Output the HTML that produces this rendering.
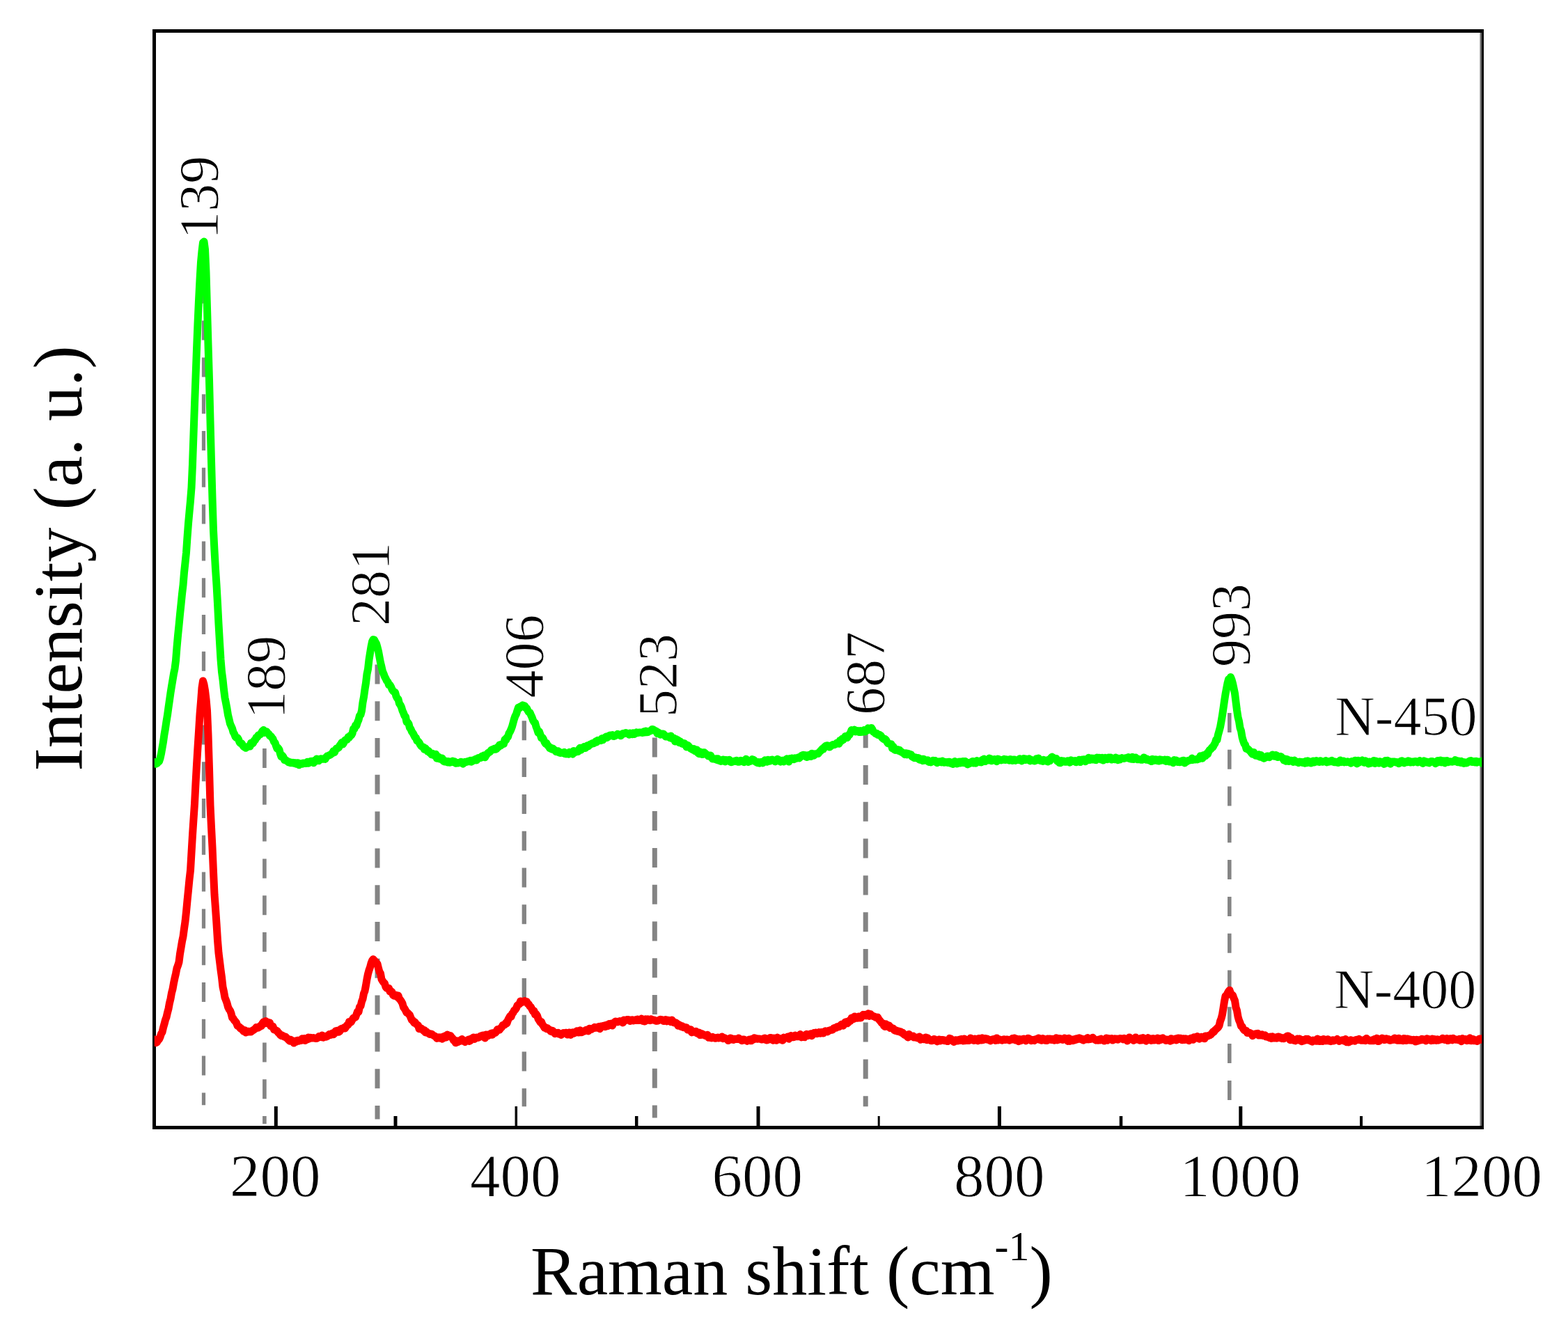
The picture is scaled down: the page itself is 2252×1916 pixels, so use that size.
<!DOCTYPE html>
<html lang="en"><head><meta charset="utf-8"><title>Raman spectra</title>
<style>html,body{margin:0;padding:0;background:#fff}body{width:2252px;height:1916px;overflow:hidden}svg{display:block}</style>
</head><body>
<svg width="2252" height="1916" viewBox="0 0 2252 1916">
<rect width="2252" height="1916" fill="#fff"/>
<line x1="292.5" y1="355.0" x2="292.5" y2="1587.3" stroke="#848484" stroke-width="5.2" stroke-dasharray="28 24.8"/>
<line x1="379.9" y1="1075" x2="379.9" y2="1614.3" stroke="#848484" stroke-width="5.6" stroke-dasharray="28 24.8"/>
<line x1="542.0" y1="954.4" x2="542.0" y2="1607.5" stroke="#848484" stroke-width="7" stroke-dasharray="28 24.8"/>
<line x1="752.8" y1="1035.3" x2="752.8" y2="1589.2" stroke="#848484" stroke-width="6.3" stroke-dasharray="28 24.8"/>
<line x1="940.3" y1="1059.5" x2="940.3" y2="1605.6" stroke="#848484" stroke-width="7" stroke-dasharray="28 24.8"/>
<line x1="1243.2" y1="1046.2" x2="1243.2" y2="1589.2" stroke="#848484" stroke-width="7" stroke-dasharray="28 24.8"/>
<line x1="1765.8" y1="1023.9" x2="1765.8" y2="1580.5" stroke="#848484" stroke-width="5.5" stroke-dasharray="28 24.8"/>
<g fill="#000">
<rect x="219" y="42" width="1912" height="5"/>
<rect x="219" y="1617" width="1912" height="5"/>
<rect x="219" y="42" width="5" height="1580"/>
<rect x="2128" y="42" width="3" height="1580"/>
<rect x="2125.5" y="47" width="2.5" height="1570" fill="#6e6e6e"/>
<rect x="393.8" y="1589" width="5" height="28"/>
<rect x="739.55" y="1589" width="3.5" height="28"/>
<rect x="1086.5" y="1589" width="5" height="28"/>
<rect x="1432.9" y="1589" width="5" height="28"/>
<rect x="1779.3" y="1589" width="5" height="28"/>
<rect x="565.5" y="1603" width="5" height="14"/>
<rect x="911.95" y="1603" width="4.5" height="14"/>
<rect x="1260.7" y="1603" width="3" height="14"/>
<rect x="1607.75" y="1603" width="4.5" height="14"/>
<rect x="1953.0" y="1603" width="4" height="14"/>
</g>
<clipPath id="cp"><rect x="221.8" y="0" width="1906.4" height="1916"/></clipPath>
<g clip-path="url(#cp)" fill="none" stroke-linejoin="round" stroke-linecap="butt">
<path d="M218.0,1096.4 L219.5,1097.0 L221.0,1096.4 L222.5,1094.4 L224.0,1097.1 L225.5,1096.5 L227.0,1094.7 L228.5,1093.7 L230.0,1089.3 L231.5,1082.6 L233.0,1074.0 L234.5,1065.5 L236.0,1054.7 L237.5,1046.3 L239.0,1036.0 L240.5,1026.9 L242.0,1016.0 L243.5,1005.6 L245.0,994.9 L246.5,985.6 L248.0,976.7 L249.5,967.7 L251.0,960.3 L252.5,948.7 L254.0,929.8 L255.5,912.9 L257.0,898.2 L258.5,882.5 L260.0,868.1 L261.5,853.0 L263.0,840.5 L264.5,822.3 L266.0,808.1 L267.5,793.7 L269.0,771.6 L270.5,751.9 L272.0,735.2 L273.5,719.3 L275.0,700.4 L276.5,666.9 L278.0,624.0 L279.5,581.1 L281.0,541.7 L282.5,501.6 L284.0,464.4 L285.5,431.5 L287.0,402.2 L288.5,376.5 L290.0,360.7 L291.5,348.4 L293.0,347.1 L294.5,358.2 L296.0,391.0 L297.5,442.6 L299.0,494.9 L300.5,545.5 L302.0,604.6 L303.5,662.0 L305.0,715.6 L306.5,761.5 L308.0,790.9 L309.5,817.3 L311.0,840.0 L312.5,866.7 L314.0,896.2 L315.5,922.3 L317.0,947.1 L318.5,965.1 L320.0,976.2 L321.5,990.5 L323.0,1002.2 L324.5,1009.8 L326.0,1017.6 L327.5,1027.0 L329.0,1033.0 L330.5,1039.4 L332.0,1043.0 L333.5,1046.1 L335.0,1051.5 L336.5,1054.0 L338.0,1058.0 L339.5,1059.5 L341.0,1059.4 L342.5,1061.8 L344.0,1066.0 L345.5,1067.5 L347.0,1067.7 L348.5,1070.2 L350.0,1072.3 L351.5,1073.4 L353.0,1074.3 L354.5,1073.4 L356.0,1072.5 L357.5,1071.5 L359.0,1072.1 L360.5,1067.1 L362.0,1068.3 L363.5,1067.2 L365.0,1063.5 L366.5,1063.1 L368.0,1059.3 L369.5,1058.8 L371.0,1056.0 L372.5,1055.5 L374.0,1054.7 L375.5,1052.4 L377.0,1049.9 L378.5,1048.6 L380.0,1052.4 L381.5,1050.7 L383.0,1050.8 L384.5,1053.0 L386.0,1054.0 L387.5,1056.8 L389.0,1057.4 L390.5,1059.4 L392.0,1061.2 L393.5,1065.5 L395.0,1066.7 L396.5,1071.4 L398.0,1075.3 L399.5,1074.5 L401.0,1076.6 L402.5,1082.6 L404.0,1086.9 L405.5,1085.3 L407.0,1087.3 L408.5,1091.5 L410.0,1091.3 L411.5,1092.6 L413.0,1093.4 L414.5,1095.0 L416.0,1094.5 L417.5,1095.8 L419.0,1095.7 L420.5,1095.2 L422.0,1096.2 L423.5,1095.6 L425.0,1097.0 L426.5,1095.7 L428.0,1095.8 L429.5,1098.8 L431.0,1096.9 L432.5,1096.8 L434.0,1097.3 L435.5,1096.0 L437.0,1096.0 L438.5,1096.6 L440.0,1096.2 L441.5,1094.2 L443.0,1096.3 L444.5,1094.3 L446.0,1093.4 L447.5,1093.3 L449.0,1093.6 L450.5,1095.7 L452.0,1092.0 L453.5,1093.2 L455.0,1090.0 L456.5,1092.1 L458.0,1092.7 L459.5,1090.8 L461.0,1089.7 L462.5,1090.2 L464.0,1090.2 L465.5,1089.5 L467.0,1090.4 L468.5,1087.5 L470.0,1085.8 L471.5,1085.5 L473.0,1084.7 L474.5,1084.0 L476.0,1082.8 L477.5,1081.9 L479.0,1078.6 L480.5,1080.4 L482.0,1077.2 L483.5,1074.7 L485.0,1074.8 L486.5,1073.6 L488.0,1070.7 L489.5,1068.8 L491.0,1066.3 L492.5,1068.9 L494.0,1066.4 L495.5,1063.0 L497.0,1062.4 L498.5,1062.3 L500.0,1058.9 L501.5,1059.3 L503.0,1056.5 L504.5,1056.2 L506.0,1053.4 L507.5,1047.0 L509.0,1046.9 L510.5,1042.0 L512.0,1042.1 L513.5,1037.4 L515.0,1034.0 L516.5,1027.9 L518.0,1026.5 L519.5,1020.9 L521.0,1008.9 L522.5,1000.9 L524.0,990.2 L525.5,981.0 L527.0,968.2 L528.5,961.1 L530.0,947.7 L531.5,938.1 L533.0,928.9 L534.5,921.5 L536.0,918.6 L537.5,918.9 L539.0,921.9 L540.5,924.3 L542.0,929.5 L543.5,935.5 L545.0,943.8 L546.5,951.7 L548.0,957.6 L549.5,964.4 L551.0,967.7 L552.5,971.9 L554.0,974.7 L555.5,977.8 L557.0,979.4 L558.5,983.7 L560.0,983.8 L561.5,986.4 L563.0,990.0 L564.5,992.4 L566.0,993.8 L567.5,994.4 L569.0,1000.0 L570.5,1002.8 L572.0,1004.2 L573.5,1010.5 L575.0,1012.5 L576.5,1015.6 L578.0,1020.7 L579.5,1024.0 L581.0,1028.1 L582.5,1029.4 L584.0,1037.0 L585.5,1037.5 L587.0,1039.6 L588.5,1045.3 L590.0,1047.2 L591.5,1050.9 L593.0,1052.8 L594.5,1055.8 L596.0,1058.7 L597.5,1059.9 L599.0,1064.0 L600.5,1064.8 L602.0,1066.4 L603.5,1069.5 L605.0,1071.7 L606.5,1072.4 L608.0,1073.1 L609.5,1076.3 L611.0,1074.7 L612.5,1076.8 L614.0,1079.2 L615.5,1078.5 L617.0,1081.1 L618.5,1081.9 L620.0,1083.9 L621.5,1082.5 L623.0,1083.6 L624.5,1085.5 L626.0,1083.3 L627.5,1089.3 L629.0,1086.7 L630.5,1087.5 L632.0,1090.3 L633.5,1090.2 L635.0,1089.0 L636.5,1092.7 L638.0,1093.8 L639.5,1092.9 L641.0,1093.6 L642.5,1094.9 L644.0,1093.4 L645.5,1095.2 L647.0,1095.0 L648.5,1094.0 L650.0,1093.2 L651.5,1094.7 L653.0,1094.0 L654.5,1096.3 L656.0,1095.3 L657.5,1096.0 L659.0,1095.3 L660.5,1095.4 L662.0,1094.2 L663.5,1095.9 L665.0,1097.2 L666.5,1094.7 L668.0,1094.3 L669.5,1094.6 L671.0,1093.9 L672.5,1093.2 L674.0,1093.7 L675.5,1092.6 L677.0,1094.2 L678.5,1091.9 L680.0,1091.8 L681.5,1092.1 L683.0,1090.2 L684.5,1091.9 L686.0,1089.0 L687.5,1088.4 L689.0,1088.5 L690.5,1088.4 L692.0,1086.3 L693.5,1087.4 L695.0,1084.9 L696.5,1087.8 L698.0,1085.0 L699.5,1083.1 L701.0,1081.4 L702.5,1080.6 L704.0,1079.5 L705.5,1077.4 L707.0,1076.6 L708.5,1076.6 L710.0,1075.4 L711.5,1076.3 L713.0,1075.7 L714.5,1073.4 L716.0,1073.0 L717.5,1069.8 L719.0,1071.1 L720.5,1069.1 L722.0,1068.5 L723.5,1068.4 L725.0,1062.3 L726.5,1063.2 L728.0,1059.2 L729.5,1058.5 L731.0,1053.2 L732.5,1050.9 L734.0,1047.7 L735.5,1043.6 L737.0,1038.1 L738.5,1032.6 L740.0,1028.3 L741.5,1025.6 L743.0,1020.7 L744.5,1016.1 L746.0,1017.1 L747.5,1014.8 L749.0,1014.3 L750.5,1012.8 L752.0,1014.8 L753.5,1013.6 L755.0,1016.9 L756.5,1017.2 L758.0,1020.3 L759.5,1022.8 L761.0,1023.2 L762.5,1026.9 L764.0,1030.1 L765.5,1034.4 L767.0,1037.1 L768.5,1038.2 L770.0,1043.8 L771.5,1047.5 L773.0,1052.3 L774.5,1050.7 L776.0,1055.0 L777.5,1060.0 L779.0,1059.2 L780.5,1061.6 L782.0,1065.6 L783.5,1068.0 L785.0,1067.6 L786.5,1070.7 L788.0,1071.6 L789.5,1074.6 L791.0,1074.0 L792.5,1076.2 L794.0,1074.9 L795.5,1076.6 L797.0,1077.5 L798.5,1079.7 L800.0,1079.7 L801.5,1078.7 L803.0,1080.9 L804.5,1081.5 L806.0,1081.0 L807.5,1081.3 L809.0,1081.8 L810.5,1080.3 L812.0,1082.8 L813.5,1082.9 L815.0,1081.5 L816.5,1083.3 L818.0,1080.5 L819.5,1081.1 L821.0,1080.8 L822.5,1083.2 L824.0,1078.4 L825.5,1080.5 L827.0,1080.3 L828.5,1079.1 L830.0,1079.5 L831.5,1076.3 L833.0,1074.3 L834.5,1077.2 L836.0,1074.1 L837.5,1074.4 L839.0,1072.6 L840.5,1074.5 L842.0,1073.4 L843.5,1070.7 L845.0,1071.8 L846.5,1070.1 L848.0,1069.0 L849.5,1068.5 L851.0,1067.4 L852.5,1067.7 L854.0,1066.6 L855.5,1065.0 L857.0,1065.9 L858.5,1063.2 L860.0,1063.6 L861.5,1063.1 L863.0,1063.7 L864.5,1060.6 L866.0,1062.7 L867.5,1060.3 L869.0,1059.3 L870.5,1058.2 L872.0,1059.3 L873.5,1058.2 L875.0,1056.4 L876.5,1055.9 L878.0,1056.2 L879.5,1055.6 L881.0,1057.4 L882.5,1057.4 L884.0,1056.5 L885.5,1055.6 L887.0,1054.3 L888.5,1054.7 L890.0,1055.5 L891.5,1056.8 L893.0,1055.1 L894.5,1053.5 L896.0,1053.8 L897.5,1053.0 L899.0,1052.5 L900.5,1053.1 L902.0,1053.4 L903.5,1055.2 L905.0,1053.0 L906.5,1054.4 L908.0,1054.8 L909.5,1052.7 L911.0,1054.5 L912.5,1053.3 L914.0,1051.9 L915.5,1052.7 L917.0,1052.3 L918.5,1052.0 L920.0,1051.9 L921.5,1052.3 L923.0,1052.5 L924.5,1050.9 L926.0,1051.8 L927.5,1049.9 L929.0,1051.7 L930.5,1051.6 L932.0,1050.4 L933.5,1049.8 L935.0,1049.5 L936.5,1047.5 L938.0,1047.7 L939.5,1048.6 L941.0,1049.8 L942.5,1050.1 L944.0,1053.5 L945.5,1051.9 L947.0,1054.1 L948.5,1055.1 L950.0,1054.1 L951.5,1053.9 L953.0,1054.1 L954.5,1056.2 L956.0,1057.9 L957.5,1057.5 L959.0,1058.0 L960.5,1057.9 L962.0,1059.7 L963.5,1057.1 L965.0,1060.6 L966.5,1061.0 L968.0,1060.1 L969.5,1065.0 L971.0,1061.5 L972.5,1062.5 L974.0,1063.1 L975.5,1066.6 L977.0,1065.0 L978.5,1067.6 L980.0,1068.3 L981.5,1068.7 L983.0,1067.6 L984.5,1069.3 L986.0,1072.9 L987.5,1070.2 L989.0,1071.6 L990.5,1073.3 L992.0,1075.3 L993.5,1075.5 L995.0,1076.9 L996.5,1075.5 L998.0,1078.7 L999.5,1078.9 L1001.0,1077.0 L1002.5,1081.4 L1004.0,1082.8 L1005.5,1079.8 L1007.0,1081.4 L1008.5,1083.6 L1010.0,1080.8 L1011.5,1080.7 L1013.0,1082.1 L1014.5,1083.6 L1016.0,1084.1 L1017.5,1086.1 L1019.0,1086.2 L1020.5,1085.0 L1022.0,1087.9 L1023.5,1090.1 L1025.0,1089.9 L1026.5,1090.4 L1028.0,1089.8 L1029.5,1091.6 L1031.0,1089.8 L1032.5,1092.3 L1034.0,1091.7 L1035.5,1093.4 L1037.0,1092.8 L1038.5,1091.1 L1040.0,1092.7 L1041.5,1094.1 L1043.0,1091.4 L1044.5,1092.2 L1046.0,1092.0 L1047.5,1091.2 L1049.0,1094.2 L1050.5,1094.7 L1052.0,1094.1 L1053.5,1093.5 L1055.0,1093.1 L1056.5,1093.5 L1058.0,1092.3 L1059.5,1094.2 L1061.0,1094.3 L1062.5,1094.1 L1064.0,1092.3 L1065.5,1092.9 L1067.0,1092.5 L1068.5,1094.7 L1070.0,1092.7 L1071.5,1090.2 L1073.0,1092.8 L1074.5,1094.6 L1076.0,1093.1 L1077.5,1093.5 L1079.0,1092.7 L1080.5,1090.6 L1082.0,1091.1 L1083.5,1092.2 L1085.0,1094.0 L1086.5,1094.8 L1088.0,1095.6 L1089.5,1094.6 L1091.0,1096.2 L1092.5,1094.7 L1094.0,1094.2 L1095.5,1095.9 L1097.0,1093.6 L1098.5,1092.0 L1100.0,1093.1 L1101.5,1094.2 L1103.0,1091.3 L1104.5,1093.2 L1106.0,1093.0 L1107.5,1091.4 L1109.0,1091.1 L1110.5,1092.1 L1112.0,1091.9 L1113.5,1093.9 L1115.0,1092.7 L1116.5,1090.3 L1118.0,1091.1 L1119.5,1092.9 L1121.0,1094.2 L1122.5,1092.4 L1124.0,1092.2 L1125.5,1094.0 L1127.0,1091.7 L1128.5,1091.3 L1130.0,1089.9 L1131.5,1090.9 L1133.0,1094.0 L1134.5,1089.5 L1136.0,1091.0 L1137.5,1088.9 L1139.0,1090.3 L1140.5,1090.7 L1142.0,1088.8 L1143.5,1089.4 L1145.0,1088.8 L1146.5,1087.9 L1148.0,1088.8 L1149.5,1087.2 L1151.0,1085.5 L1152.5,1084.8 L1154.0,1084.3 L1155.5,1085.8 L1157.0,1084.7 L1158.5,1087.5 L1160.0,1087.0 L1161.5,1084.5 L1163.0,1084.2 L1164.5,1086.6 L1166.0,1082.2 L1167.5,1083.7 L1169.0,1085.2 L1170.5,1082.8 L1172.0,1083.1 L1173.5,1082.6 L1175.0,1082.6 L1176.5,1080.4 L1178.0,1079.0 L1179.5,1077.5 L1181.0,1075.5 L1182.5,1076.0 L1184.0,1073.1 L1185.5,1071.7 L1187.0,1070.9 L1188.5,1070.7 L1190.0,1071.6 L1191.5,1073.1 L1193.0,1071.8 L1194.5,1070.5 L1196.0,1069.6 L1197.5,1069.8 L1199.0,1069.5 L1200.5,1068.7 L1202.0,1067.0 L1203.5,1067.4 L1205.0,1068.2 L1206.5,1063.3 L1208.0,1064.5 L1209.5,1061.1 L1211.0,1062.7 L1212.5,1060.3 L1214.0,1057.5 L1215.5,1059.0 L1217.0,1059.5 L1218.5,1055.9 L1220.0,1055.5 L1221.5,1052.4 L1223.0,1048.6 L1224.5,1050.8 L1226.0,1049.3 L1227.5,1048.1 L1229.0,1050.9 L1230.5,1050.4 L1232.0,1049.7 L1233.5,1051.5 L1235.0,1049.6 L1236.5,1051.5 L1238.0,1049.7 L1239.5,1051.2 L1241.0,1048.5 L1242.5,1050.8 L1244.0,1048.4 L1245.5,1049.1 L1247.0,1045.9 L1248.5,1046.4 L1250.0,1048.4 L1251.5,1045.5 L1253.0,1047.8 L1254.5,1051.4 L1256.0,1051.9 L1257.5,1053.7 L1259.0,1053.3 L1260.5,1055.4 L1262.0,1055.0 L1263.5,1055.5 L1265.0,1056.5 L1266.5,1059.2 L1268.0,1060.6 L1269.5,1061.8 L1271.0,1061.3 L1272.5,1062.7 L1274.0,1065.7 L1275.5,1067.9 L1277.0,1068.1 L1278.5,1069.0 L1280.0,1068.7 L1281.5,1074.9 L1283.0,1072.3 L1284.5,1076.7 L1286.0,1077.5 L1287.5,1076.9 L1289.0,1076.6 L1290.5,1078.2 L1292.0,1077.3 L1293.5,1079.7 L1295.0,1080.0 L1296.5,1081.2 L1298.0,1082.2 L1299.5,1083.7 L1301.0,1081.7 L1302.5,1083.9 L1304.0,1082.3 L1305.5,1082.7 L1307.0,1083.6 L1308.5,1083.8 L1310.0,1086.8 L1311.5,1087.5 L1313.0,1088.6 L1314.5,1087.8 L1316.0,1088.9 L1317.5,1088.5 L1319.0,1088.5 L1320.5,1091.1 L1322.0,1091.4 L1323.5,1090.3 L1325.0,1092.7 L1326.5,1090.2 L1328.0,1092.3 L1329.5,1092.0 L1331.0,1092.3 L1332.5,1091.8 L1334.0,1094.4 L1335.5,1094.1 L1337.0,1094.9 L1338.5,1093.8 L1340.0,1092.2 L1341.5,1093.4 L1343.0,1092.5 L1344.5,1094.6 L1346.0,1095.6 L1347.5,1094.7 L1349.0,1093.7 L1350.5,1094.1 L1352.0,1094.9 L1353.5,1093.0 L1355.0,1095.0 L1356.5,1095.2 L1358.0,1094.4 L1359.5,1094.6 L1361.0,1095.4 L1362.5,1094.2 L1364.0,1094.3 L1365.5,1096.3 L1367.0,1095.7 L1368.5,1097.5 L1370.0,1094.4 L1371.5,1093.5 L1373.0,1096.8 L1374.5,1096.9 L1376.0,1094.9 L1377.5,1094.1 L1379.0,1095.9 L1380.5,1093.9 L1382.0,1095.6 L1383.5,1093.5 L1385.0,1095.8 L1386.5,1093.5 L1388.0,1095.8 L1389.5,1097.9 L1391.0,1095.6 L1392.5,1096.7 L1394.0,1094.9 L1395.5,1094.4 L1397.0,1093.4 L1398.5,1096.1 L1400.0,1094.5 L1401.5,1096.2 L1403.0,1092.6 L1404.5,1093.4 L1406.0,1093.4 L1407.5,1094.7 L1409.0,1094.9 L1410.5,1091.7 L1412.0,1090.9 L1413.5,1090.0 L1415.0,1093.6 L1416.5,1091.8 L1418.0,1091.0 L1419.5,1091.7 L1421.0,1089.2 L1422.5,1089.7 L1424.0,1092.8 L1425.5,1092.1 L1427.0,1091.8 L1428.5,1090.4 L1430.0,1092.3 L1431.5,1093.7 L1433.0,1090.1 L1434.5,1091.5 L1436.0,1091.0 L1437.5,1091.9 L1439.0,1091.5 L1440.5,1091.3 L1442.0,1090.4 L1443.5,1091.4 L1445.0,1090.7 L1446.5,1091.2 L1448.0,1091.3 L1449.5,1092.1 L1451.0,1090.6 L1452.5,1090.9 L1454.0,1092.6 L1455.5,1091.0 L1457.0,1091.0 L1458.5,1092.3 L1460.0,1091.6 L1461.5,1091.4 L1463.0,1091.5 L1464.5,1089.8 L1466.0,1091.8 L1467.5,1092.8 L1469.0,1091.9 L1470.5,1089.4 L1472.0,1091.6 L1473.5,1090.2 L1475.0,1091.0 L1476.5,1091.4 L1478.0,1089.8 L1479.5,1092.9 L1481.0,1091.2 L1482.5,1092.3 L1484.0,1092.2 L1485.5,1093.1 L1487.0,1092.9 L1488.5,1089.8 L1490.0,1091.7 L1491.5,1089.1 L1493.0,1091.2 L1494.5,1092.6 L1496.0,1092.9 L1497.5,1093.4 L1499.0,1091.4 L1500.5,1092.3 L1502.0,1092.1 L1503.5,1093.5 L1505.0,1093.9 L1506.5,1090.9 L1508.0,1092.7 L1509.5,1088.5 L1511.0,1087.1 L1512.5,1088.2 L1514.0,1089.0 L1515.5,1089.7 L1517.0,1089.5 L1518.5,1093.4 L1520.0,1092.9 L1521.5,1095.6 L1523.0,1095.8 L1524.5,1092.6 L1526.0,1093.0 L1527.5,1092.9 L1529.0,1094.3 L1530.5,1094.0 L1532.0,1094.2 L1533.5,1092.8 L1535.0,1094.2 L1536.5,1095.2 L1538.0,1091.8 L1539.5,1093.0 L1541.0,1093.4 L1542.5,1092.8 L1544.0,1092.6 L1545.5,1094.7 L1547.0,1094.0 L1548.5,1093.3 L1550.0,1091.2 L1551.5,1094.6 L1553.0,1092.2 L1554.5,1090.9 L1556.0,1091.0 L1557.5,1090.7 L1559.0,1093.7 L1560.5,1091.2 L1562.0,1090.9 L1563.5,1088.2 L1565.0,1091.5 L1566.5,1089.2 L1568.0,1089.1 L1569.5,1091.1 L1571.0,1089.3 L1572.5,1091.3 L1574.0,1091.6 L1575.5,1088.0 L1577.0,1090.0 L1578.5,1088.2 L1580.0,1090.0 L1581.5,1091.1 L1583.0,1088.3 L1584.5,1092.1 L1586.0,1089.5 L1587.5,1088.4 L1589.0,1089.7 L1590.5,1090.7 L1592.0,1088.1 L1593.5,1089.7 L1595.0,1088.0 L1596.5,1091.1 L1598.0,1089.8 L1599.5,1089.1 L1601.0,1090.8 L1602.5,1088.0 L1604.0,1089.0 L1605.5,1091.7 L1607.0,1089.3 L1608.5,1091.1 L1610.0,1089.7 L1611.5,1088.6 L1613.0,1089.1 L1614.5,1089.5 L1616.0,1088.9 L1617.5,1088.4 L1619.0,1088.4 L1620.5,1087.6 L1622.0,1089.5 L1623.5,1089.9 L1625.0,1090.3 L1626.5,1087.3 L1628.0,1090.5 L1629.5,1089.5 L1631.0,1087.9 L1632.5,1089.8 L1634.0,1090.8 L1635.5,1090.5 L1637.0,1090.8 L1638.5,1091.2 L1640.0,1091.3 L1641.5,1090.3 L1643.0,1087.9 L1644.5,1089.6 L1646.0,1091.1 L1647.5,1090.2 L1649.0,1091.7 L1650.5,1092.0 L1652.0,1091.2 L1653.5,1093.6 L1655.0,1090.3 L1656.5,1092.7 L1658.0,1091.1 L1659.5,1090.8 L1661.0,1092.6 L1662.5,1091.2 L1664.0,1093.1 L1665.5,1090.8 L1667.0,1092.3 L1668.5,1091.3 L1670.0,1092.1 L1671.5,1092.0 L1673.0,1091.1 L1674.5,1093.4 L1676.0,1091.2 L1677.5,1091.5 L1679.0,1093.9 L1680.5,1094.0 L1682.0,1093.7 L1683.5,1093.4 L1685.0,1095.7 L1686.5,1091.6 L1688.0,1092.3 L1689.5,1092.0 L1691.0,1094.3 L1692.5,1093.6 L1694.0,1094.7 L1695.5,1094.5 L1697.0,1093.1 L1698.5,1092.4 L1700.0,1092.2 L1701.5,1096.0 L1703.0,1094.4 L1704.5,1093.8 L1706.0,1092.5 L1707.5,1092.4 L1709.0,1091.9 L1710.5,1091.6 L1712.0,1089.1 L1713.5,1091.3 L1715.0,1090.6 L1716.5,1091.1 L1718.0,1090.6 L1719.5,1090.9 L1721.0,1089.4 L1722.5,1089.9 L1724.0,1085.8 L1725.5,1086.4 L1727.0,1089.2 L1728.5,1084.9 L1730.0,1085.2 L1731.5,1085.5 L1733.0,1082.5 L1734.5,1083.1 L1736.0,1079.1 L1737.5,1077.0 L1739.0,1076.0 L1740.5,1073.7 L1742.0,1073.2 L1743.5,1070.1 L1745.0,1067.8 L1746.5,1062.8 L1748.0,1062.6 L1749.5,1055.2 L1751.0,1049.9 L1752.5,1044.4 L1754.0,1036.3 L1755.5,1027.3 L1757.0,1017.3 L1758.5,1006.8 L1760.0,997.0 L1761.5,989.1 L1763.0,981.3 L1764.5,975.8 L1766.0,975.6 L1767.5,972.5 L1769.0,976.2 L1770.5,981.6 L1772.0,988.6 L1773.5,995.8 L1775.0,1008.2 L1776.5,1020.0 L1778.0,1030.0 L1779.5,1035.9 L1781.0,1045.5 L1782.5,1049.7 L1784.0,1058.7 L1785.5,1063.9 L1787.0,1068.2 L1788.5,1069.8 L1790.0,1075.4 L1791.5,1075.3 L1793.0,1076.4 L1794.5,1078.1 L1796.0,1079.4 L1797.5,1081.6 L1799.0,1083.3 L1800.5,1080.4 L1802.0,1082.9 L1803.5,1085.2 L1805.0,1084.9 L1806.5,1085.8 L1808.0,1083.8 L1809.5,1087.2 L1811.0,1084.5 L1812.5,1086.9 L1814.0,1088.5 L1815.5,1089.2 L1817.0,1087.5 L1818.5,1087.9 L1820.0,1086.0 L1821.5,1085.9 L1823.0,1087.7 L1824.5,1086.1 L1826.0,1085.8 L1827.5,1084.1 L1829.0,1085.8 L1830.5,1086.3 L1832.0,1084.5 L1833.5,1084.8 L1835.0,1087.6 L1836.5,1086.5 L1838.0,1086.7 L1839.5,1086.5 L1841.0,1088.0 L1842.5,1089.3 L1844.0,1091.9 L1845.5,1090.0 L1847.0,1093.3 L1848.5,1090.5 L1850.0,1091.6 L1851.5,1093.4 L1853.0,1092.5 L1854.5,1092.2 L1856.0,1093.4 L1857.5,1094.4 L1859.0,1092.1 L1860.5,1094.1 L1862.0,1094.4 L1863.5,1094.2 L1865.0,1095.7 L1866.5,1094.1 L1868.0,1094.3 L1869.5,1094.8 L1871.0,1095.5 L1872.5,1094.3 L1874.0,1096.2 L1875.5,1093.2 L1877.0,1095.7 L1878.5,1093.0 L1880.0,1093.6 L1881.5,1094.1 L1883.0,1096.1 L1884.5,1094.6 L1886.0,1092.9 L1887.5,1095.0 L1889.0,1093.1 L1890.5,1092.5 L1892.0,1094.0 L1893.5,1093.5 L1895.0,1094.6 L1896.5,1092.8 L1898.0,1093.9 L1899.5,1094.3 L1901.0,1093.8 L1902.5,1093.5 L1904.0,1092.7 L1905.5,1094.7 L1907.0,1093.8 L1908.5,1094.2 L1910.0,1093.3 L1911.5,1093.7 L1913.0,1092.5 L1914.5,1093.9 L1916.0,1094.7 L1917.5,1094.0 L1919.0,1094.9 L1920.5,1094.3 L1922.0,1095.6 L1923.5,1093.7 L1925.0,1092.0 L1926.5,1094.5 L1928.0,1093.9 L1929.5,1092.9 L1931.0,1094.9 L1932.5,1094.4 L1934.0,1094.7 L1935.5,1093.8 L1937.0,1094.4 L1938.5,1094.5 L1940.0,1096.3 L1941.5,1093.4 L1943.0,1094.2 L1944.5,1094.7 L1946.0,1092.2 L1947.5,1092.4 L1949.0,1096.9 L1950.5,1092.2 L1952.0,1095.1 L1953.5,1093.4 L1955.0,1093.5 L1956.5,1092.1 L1958.0,1093.4 L1959.5,1095.4 L1961.0,1092.8 L1962.5,1095.2 L1964.0,1094.9 L1965.5,1097.0 L1967.0,1094.0 L1968.5,1096.1 L1970.0,1095.7 L1971.5,1094.3 L1973.0,1092.6 L1974.5,1096.5 L1976.0,1093.0 L1977.5,1094.1 L1979.0,1095.8 L1980.5,1096.1 L1982.0,1093.7 L1983.5,1094.7 L1985.0,1094.4 L1986.5,1096.2 L1988.0,1097.4 L1989.5,1092.6 L1991.0,1095.9 L1992.5,1092.2 L1994.0,1094.8 L1995.5,1093.5 L1997.0,1097.2 L1998.5,1095.0 L2000.0,1093.9 L2001.5,1094.2 L2003.0,1094.1 L2004.5,1095.0 L2006.0,1094.6 L2007.5,1095.6 L2009.0,1096.6 L2010.5,1095.6 L2012.0,1093.3 L2013.5,1092.8 L2015.0,1093.8 L2016.5,1095.9 L2018.0,1094.2 L2019.5,1093.8 L2021.0,1094.8 L2022.5,1092.9 L2024.0,1093.2 L2025.5,1095.1 L2027.0,1094.1 L2028.5,1093.9 L2030.0,1094.8 L2031.5,1093.7 L2033.0,1093.5 L2034.5,1093.8 L2036.0,1095.0 L2037.5,1094.3 L2039.0,1092.8 L2040.5,1093.9 L2042.0,1095.0 L2043.5,1096.4 L2045.0,1092.8 L2046.5,1094.5 L2048.0,1093.8 L2049.5,1095.1 L2051.0,1094.6 L2052.5,1095.8 L2054.0,1094.7 L2055.5,1093.4 L2057.0,1093.4 L2058.5,1094.5 L2060.0,1094.5 L2061.5,1096.6 L2063.0,1096.0 L2064.5,1092.6 L2066.0,1094.4 L2067.5,1092.4 L2069.0,1092.0 L2070.5,1094.9 L2072.0,1094.6 L2073.5,1092.7 L2075.0,1095.9 L2076.5,1092.8 L2078.0,1092.6 L2079.5,1094.7 L2081.0,1094.2 L2082.5,1093.8 L2084.0,1093.9 L2085.5,1094.2 L2087.0,1093.8 L2088.5,1093.7 L2090.0,1091.7 L2091.5,1092.3 L2093.0,1094.7 L2094.5,1093.1 L2096.0,1094.6 L2097.5,1095.4 L2099.0,1093.5 L2100.5,1094.3 L2102.0,1096.4 L2103.5,1094.8 L2105.0,1096.1 L2106.5,1095.8 L2108.0,1094.8 L2109.5,1093.8 L2111.0,1092.9 L2112.5,1092.6 L2114.0,1094.5 L2115.5,1094.5 L2117.0,1093.7 L2118.5,1094.9 L2120.0,1093.2 L2121.5,1095.2 L2123.0,1094.0 L2124.5,1093.9 L2126.0,1093.9 L2127.5,1093.8 L2129.0,1096.5 L2130.5,1092.0 L2132.0,1094.1 L2133.5,1095.4 L2134.0,1094.8" stroke="#00ff00" stroke-width="11"/>
<path d="M218.0,1495.7 L219.5,1494.9 L221.0,1495.0 L222.5,1492.9 L224.0,1497.7 L225.5,1496.9 L227.0,1493.9 L228.5,1492.9 L230.0,1489.5 L231.5,1484.9 L233.0,1482.4 L234.5,1476.0 L236.0,1470.8 L237.5,1464.9 L239.0,1461.0 L240.5,1454.4 L242.0,1448.8 L243.5,1440.6 L245.0,1434.5 L246.5,1426.1 L248.0,1420.5 L249.5,1412.0 L251.0,1404.9 L252.5,1398.4 L254.0,1390.7 L255.5,1386.8 L257.0,1381.9 L258.5,1370.0 L260.0,1361.3 L261.5,1352.2 L263.0,1345.1 L264.5,1333.8 L266.0,1323.5 L267.5,1309.7 L269.0,1293.5 L270.5,1278.6 L272.0,1263.1 L273.5,1250.2 L275.0,1224.6 L276.5,1199.3 L278.0,1176.7 L279.5,1154.5 L281.0,1125.2 L282.5,1098.3 L284.0,1073.6 L285.5,1050.5 L287.0,1026.0 L288.5,1008.0 L290.0,987.8 L291.5,978.0 L293.0,983.1 L294.5,991.7 L296.0,1004.1 L297.5,1020.8 L299.0,1055.4 L300.5,1103.7 L302.0,1156.6 L303.5,1188.1 L305.0,1217.3 L306.5,1252.2 L308.0,1284.7 L309.5,1305.0 L311.0,1326.6 L312.5,1350.3 L314.0,1368.8 L315.5,1380.8 L317.0,1393.0 L318.5,1403.8 L320.0,1417.5 L321.5,1424.3 L323.0,1432.8 L324.5,1436.6 L326.0,1440.6 L327.5,1446.3 L329.0,1449.5 L330.5,1451.6 L332.0,1455.4 L333.5,1461.7 L335.0,1462.8 L336.5,1465.5 L338.0,1467.1 L339.5,1469.0 L341.0,1473.2 L342.5,1474.1 L344.0,1475.2 L345.5,1477.4 L347.0,1477.4 L348.5,1479.5 L350.0,1481.4 L351.5,1479.7 L353.0,1483.0 L354.5,1480.9 L356.0,1482.2 L357.5,1481.2 L359.0,1481.9 L360.5,1481.9 L362.0,1480.7 L363.5,1479.7 L365.0,1478.8 L366.5,1477.6 L368.0,1475.7 L369.5,1476.3 L371.0,1476.0 L372.5,1475.1 L374.0,1473.2 L375.5,1473.4 L377.0,1469.7 L378.5,1467.7 L380.0,1470.0 L381.5,1466.6 L383.0,1469.5 L384.5,1468.0 L386.0,1470.7 L387.5,1469.1 L389.0,1473.8 L390.5,1473.8 L392.0,1474.1 L393.5,1478.7 L395.0,1479.2 L396.5,1480.0 L398.0,1480.6 L399.5,1483.0 L401.0,1484.1 L402.5,1486.4 L404.0,1487.7 L405.5,1487.1 L407.0,1488.2 L408.5,1489.2 L410.0,1489.0 L411.5,1490.7 L413.0,1492.0 L414.5,1493.7 L416.0,1495.2 L417.5,1493.3 L419.0,1495.5 L420.5,1494.7 L422.0,1498.1 L423.5,1495.6 L425.0,1496.3 L426.5,1494.4 L428.0,1494.3 L429.5,1495.1 L431.0,1494.0 L432.5,1494.5 L434.0,1491.7 L435.5,1493.9 L437.0,1491.6 L438.5,1494.4 L440.0,1491.7 L441.5,1493.1 L443.0,1489.9 L444.5,1491.9 L446.0,1490.2 L447.5,1490.6 L449.0,1491.0 L450.5,1490.5 L452.0,1491.1 L453.5,1491.6 L455.0,1491.3 L456.5,1490.3 L458.0,1488.6 L459.5,1489.1 L461.0,1489.6 L462.5,1487.0 L464.0,1490.2 L465.5,1488.6 L467.0,1488.2 L468.5,1489.2 L470.0,1488.4 L471.5,1487.4 L473.0,1485.5 L474.5,1486.5 L476.0,1486.0 L477.5,1483.9 L479.0,1485.7 L480.5,1484.4 L482.0,1480.8 L483.5,1482.6 L485.0,1480.2 L486.5,1482.3 L488.0,1481.1 L489.5,1477.9 L491.0,1477.2 L492.5,1477.4 L494.0,1476.0 L495.5,1477.0 L497.0,1474.9 L498.5,1472.4 L500.0,1472.0 L501.5,1467.4 L503.0,1468.6 L504.5,1467.6 L506.0,1464.6 L507.5,1462.1 L509.0,1461.7 L510.5,1461.3 L512.0,1457.0 L513.5,1453.0 L515.0,1453.3 L516.5,1446.1 L518.0,1445.0 L519.5,1438.6 L521.0,1434.8 L522.5,1426.9 L524.0,1423.3 L525.5,1415.4 L527.0,1406.3 L528.5,1398.9 L530.0,1393.5 L531.5,1389.4 L533.0,1383.6 L534.5,1379.8 L536.0,1377.7 L537.5,1379.5 L539.0,1380.8 L540.5,1383.1 L542.0,1384.4 L543.5,1390.5 L545.0,1395.9 L546.5,1398.1 L548.0,1406.6 L549.5,1408.9 L551.0,1411.1 L552.5,1412.4 L554.0,1417.6 L555.5,1419.3 L557.0,1419.5 L558.5,1419.4 L560.0,1424.2 L561.5,1423.4 L563.0,1424.8 L564.5,1429.2 L566.0,1430.2 L567.5,1429.9 L569.0,1429.3 L570.5,1431.9 L572.0,1430.0 L573.5,1434.6 L575.0,1436.1 L576.5,1438.5 L578.0,1441.2 L579.5,1446.6 L581.0,1448.6 L582.5,1451.2 L584.0,1454.4 L585.5,1454.7 L587.0,1456.5 L588.5,1458.0 L590.0,1461.8 L591.5,1465.1 L593.0,1465.8 L594.5,1468.6 L596.0,1468.1 L597.5,1470.6 L599.0,1471.8 L600.5,1472.7 L602.0,1477.7 L603.5,1477.8 L605.0,1477.1 L606.5,1478.3 L608.0,1480.2 L609.5,1479.6 L611.0,1482.9 L612.5,1481.8 L614.0,1483.8 L615.5,1483.9 L617.0,1485.4 L618.5,1485.0 L620.0,1485.2 L621.5,1486.5 L623.0,1487.4 L624.5,1488.3 L626.0,1489.2 L627.5,1491.4 L629.0,1490.9 L630.5,1489.9 L632.0,1491.3 L633.5,1489.7 L635.0,1492.2 L636.5,1490.8 L638.0,1488.2 L639.5,1490.3 L641.0,1489.9 L642.5,1486.1 L644.0,1487.7 L645.5,1488.5 L647.0,1487.6 L648.5,1489.8 L650.0,1491.2 L651.5,1494.2 L653.0,1495.0 L654.5,1497.8 L656.0,1494.8 L657.5,1496.7 L659.0,1495.3 L660.5,1495.5 L662.0,1493.7 L663.5,1492.7 L665.0,1494.0 L666.5,1495.7 L668.0,1496.6 L669.5,1495.2 L671.0,1495.0 L672.5,1493.1 L674.0,1495.4 L675.5,1494.6 L677.0,1491.7 L678.5,1491.7 L680.0,1490.0 L681.5,1492.4 L683.0,1490.9 L684.5,1490.0 L686.0,1490.4 L687.5,1490.3 L689.0,1489.1 L690.5,1487.9 L692.0,1487.7 L693.5,1486.9 L695.0,1489.3 L696.5,1491.1 L698.0,1486.1 L699.5,1487.8 L701.0,1487.7 L702.5,1485.5 L704.0,1486.4 L705.5,1484.2 L707.0,1486.3 L708.5,1483.5 L710.0,1483.5 L711.5,1483.5 L713.0,1481.2 L714.5,1478.5 L716.0,1478.8 L717.5,1479.1 L719.0,1476.7 L720.5,1475.6 L722.0,1472.6 L723.5,1472.6 L725.0,1471.7 L726.5,1469.2 L728.0,1469.7 L729.5,1465.3 L731.0,1462.3 L732.5,1459.5 L734.0,1460.4 L735.5,1456.1 L737.0,1454.5 L738.5,1451.2 L740.0,1450.3 L741.5,1448.0 L743.0,1444.1 L744.5,1443.0 L746.0,1442.2 L747.5,1438.0 L749.0,1440.0 L750.5,1439.0 L752.0,1438.6 L753.5,1437.6 L755.0,1439.1 L756.5,1438.7 L758.0,1441.7 L759.5,1442.7 L761.0,1445.4 L762.5,1446.5 L764.0,1449.3 L765.5,1452.5 L767.0,1452.0 L768.5,1457.3 L770.0,1456.4 L771.5,1458.7 L773.0,1463.4 L774.5,1465.6 L776.0,1468.2 L777.5,1467.6 L779.0,1471.4 L780.5,1473.3 L782.0,1476.1 L783.5,1475.7 L785.0,1477.6 L786.5,1476.8 L788.0,1478.7 L789.5,1479.3 L791.0,1481.4 L792.5,1480.1 L794.0,1480.7 L795.5,1482.8 L797.0,1484.7 L798.5,1483.4 L800.0,1483.6 L801.5,1483.2 L803.0,1485.2 L804.5,1484.8 L806.0,1486.4 L807.5,1484.9 L809.0,1483.5 L810.5,1484.0 L812.0,1483.5 L813.5,1483.2 L815.0,1486.1 L816.5,1485.5 L818.0,1482.9 L819.5,1486.4 L821.0,1484.4 L822.5,1482.8 L824.0,1484.2 L825.5,1483.5 L827.0,1482.4 L828.5,1480.8 L830.0,1483.0 L831.5,1483.0 L833.0,1479.8 L834.5,1482.8 L836.0,1482.5 L837.5,1480.9 L839.0,1481.2 L840.5,1480.3 L842.0,1479.2 L843.5,1479.4 L845.0,1481.0 L846.5,1477.2 L848.0,1478.8 L849.5,1478.4 L851.0,1476.9 L852.5,1476.9 L854.0,1475.3 L855.5,1475.6 L857.0,1476.3 L858.5,1476.3 L860.0,1474.4 L861.5,1477.7 L863.0,1474.0 L864.5,1474.5 L866.0,1473.7 L867.5,1473.1 L869.0,1474.8 L870.5,1472.2 L872.0,1474.0 L873.5,1473.4 L875.0,1470.4 L876.5,1472.5 L878.0,1470.0 L879.5,1473.0 L881.0,1469.6 L882.5,1468.5 L884.0,1467.0 L885.5,1467.4 L887.0,1467.9 L888.5,1467.1 L890.0,1466.6 L891.5,1466.9 L893.0,1467.3 L894.5,1469.0 L896.0,1464.9 L897.5,1466.0 L899.0,1465.3 L900.5,1464.4 L902.0,1464.5 L903.5,1464.8 L905.0,1466.5 L906.5,1465.3 L908.0,1464.8 L909.5,1466.0 L911.0,1465.5 L912.5,1464.8 L914.0,1465.5 L915.5,1463.9 L917.0,1465.6 L918.5,1465.3 L920.0,1464.2 L921.5,1463.1 L923.0,1466.4 L924.5,1464.6 L926.0,1467.1 L927.5,1463.7 L929.0,1465.5 L930.5,1464.0 L932.0,1464.9 L933.5,1465.6 L935.0,1463.7 L936.5,1464.7 L938.0,1465.1 L939.5,1465.1 L941.0,1465.8 L942.5,1466.4 L944.0,1466.2 L945.5,1465.7 L947.0,1465.0 L948.5,1464.2 L950.0,1464.7 L951.5,1465.0 L953.0,1466.6 L954.5,1465.4 L956.0,1464.5 L957.5,1466.9 L959.0,1465.3 L960.5,1465.5 L962.0,1466.5 L963.5,1467.7 L965.0,1465.0 L966.5,1466.8 L968.0,1469.0 L969.5,1469.0 L971.0,1469.1 L972.5,1470.2 L974.0,1473.3 L975.5,1471.8 L977.0,1473.9 L978.5,1474.7 L980.0,1473.9 L981.5,1475.6 L983.0,1475.2 L984.5,1475.7 L986.0,1475.8 L987.5,1479.0 L989.0,1478.2 L990.5,1478.7 L992.0,1478.7 L993.5,1482.9 L995.0,1482.3 L996.5,1481.8 L998.0,1481.7 L999.5,1481.3 L1001.0,1484.0 L1002.5,1484.5 L1004.0,1483.0 L1005.5,1486.6 L1007.0,1486.6 L1008.5,1485.0 L1010.0,1485.9 L1011.5,1486.5 L1013.0,1487.6 L1014.5,1487.7 L1016.0,1486.2 L1017.5,1490.3 L1019.0,1489.2 L1020.5,1490.6 L1022.0,1490.9 L1023.5,1489.4 L1025.0,1490.3 L1026.5,1491.0 L1028.0,1491.3 L1029.5,1490.4 L1031.0,1490.1 L1032.5,1491.0 L1034.0,1490.2 L1035.5,1490.7 L1037.0,1489.0 L1038.5,1491.7 L1040.0,1490.5 L1041.5,1491.2 L1043.0,1492.0 L1044.5,1492.6 L1046.0,1494.6 L1047.5,1492.7 L1049.0,1490.9 L1050.5,1492.9 L1052.0,1492.1 L1053.5,1493.4 L1055.0,1492.2 L1056.5,1492.3 L1058.0,1492.6 L1059.5,1492.5 L1061.0,1491.1 L1062.5,1492.6 L1064.0,1493.4 L1065.5,1494.8 L1067.0,1493.0 L1068.5,1492.9 L1070.0,1494.0 L1071.5,1494.0 L1073.0,1495.2 L1074.5,1493.9 L1076.0,1493.1 L1077.5,1494.7 L1079.0,1494.8 L1080.5,1492.3 L1082.0,1493.0 L1083.5,1490.7 L1085.0,1492.2 L1086.5,1491.6 L1088.0,1492.3 L1089.5,1491.9 L1091.0,1492.3 L1092.5,1492.3 L1094.0,1493.0 L1095.5,1492.7 L1097.0,1491.7 L1098.5,1490.9 L1100.0,1493.9 L1101.5,1494.1 L1103.0,1491.9 L1104.5,1493.1 L1106.0,1490.6 L1107.5,1490.5 L1109.0,1492.1 L1110.5,1494.2 L1112.0,1491.1 L1113.5,1491.4 L1115.0,1494.3 L1116.5,1490.1 L1118.0,1493.1 L1119.5,1492.8 L1121.0,1491.8 L1122.5,1492.1 L1124.0,1494.3 L1125.5,1490.1 L1127.0,1490.9 L1128.5,1490.8 L1130.0,1490.0 L1131.5,1488.9 L1133.0,1492.2 L1134.5,1490.3 L1136.0,1487.6 L1137.5,1488.6 L1139.0,1489.7 L1140.5,1489.5 L1142.0,1487.1 L1143.5,1488.5 L1145.0,1488.7 L1146.5,1488.7 L1148.0,1488.5 L1149.5,1485.6 L1151.0,1489.9 L1152.5,1487.7 L1154.0,1489.4 L1155.5,1489.7 L1157.0,1486.7 L1158.5,1485.2 L1160.0,1487.6 L1161.5,1486.1 L1163.0,1485.6 L1164.5,1484.7 L1166.0,1487.7 L1167.5,1484.9 L1169.0,1483.6 L1170.5,1484.5 L1172.0,1483.3 L1173.5,1484.7 L1175.0,1483.7 L1176.5,1482.6 L1178.0,1484.3 L1179.5,1482.4 L1181.0,1483.7 L1182.5,1484.0 L1184.0,1481.7 L1185.5,1480.9 L1187.0,1481.5 L1188.5,1481.9 L1190.0,1480.4 L1191.5,1480.1 L1193.0,1479.4 L1194.5,1479.2 L1196.0,1479.0 L1197.5,1476.8 L1199.0,1476.4 L1200.5,1476.3 L1202.0,1474.8 L1203.5,1475.0 L1205.0,1474.8 L1206.5,1473.3 L1208.0,1471.9 L1209.5,1470.9 L1211.0,1473.2 L1212.5,1471.3 L1214.0,1468.1 L1215.5,1467.5 L1217.0,1469.8 L1218.5,1468.4 L1220.0,1465.8 L1221.5,1466.1 L1223.0,1462.1 L1224.5,1463.2 L1226.0,1463.5 L1227.5,1459.9 L1229.0,1460.8 L1230.5,1462.3 L1232.0,1462.3 L1233.5,1459.9 L1235.0,1460.7 L1236.5,1461.9 L1238.0,1459.1 L1239.5,1457.5 L1241.0,1458.4 L1242.5,1457.4 L1244.0,1458.9 L1245.5,1457.1 L1247.0,1455.8 L1248.5,1459.4 L1250.0,1456.4 L1251.5,1458.1 L1253.0,1458.9 L1254.5,1459.8 L1256.0,1459.9 L1257.5,1461.3 L1259.0,1461.5 L1260.5,1461.0 L1262.0,1463.9 L1263.5,1465.6 L1265.0,1467.4 L1266.5,1469.5 L1268.0,1469.9 L1269.5,1473.3 L1271.0,1474.5 L1272.5,1470.8 L1274.0,1474.2 L1275.5,1474.0 L1277.0,1472.9 L1278.5,1476.6 L1280.0,1475.9 L1281.5,1476.8 L1283.0,1477.1 L1284.5,1479.7 L1286.0,1480.5 L1287.5,1480.0 L1289.0,1481.2 L1290.5,1480.9 L1292.0,1482.0 L1293.5,1481.7 L1295.0,1483.4 L1296.5,1483.2 L1298.0,1485.3 L1299.5,1486.6 L1301.0,1486.6 L1302.5,1488.3 L1304.0,1490.1 L1305.5,1485.5 L1307.0,1488.5 L1308.5,1488.2 L1310.0,1488.8 L1311.5,1488.1 L1313.0,1490.1 L1314.5,1490.1 L1316.0,1490.0 L1317.5,1490.8 L1319.0,1490.7 L1320.5,1489.0 L1322.0,1493.2 L1323.5,1491.7 L1325.0,1491.1 L1326.5,1492.8 L1328.0,1491.7 L1329.5,1490.0 L1331.0,1493.8 L1332.5,1490.8 L1334.0,1492.7 L1335.5,1493.2 L1337.0,1494.8 L1338.5,1494.7 L1340.0,1493.6 L1341.5,1492.5 L1343.0,1493.0 L1344.5,1494.9 L1346.0,1495.8 L1347.5,1494.4 L1349.0,1493.0 L1350.5,1495.1 L1352.0,1493.4 L1353.5,1493.4 L1355.0,1493.6 L1356.5,1494.7 L1358.0,1494.3 L1359.5,1495.2 L1361.0,1495.6 L1362.5,1494.6 L1364.0,1491.4 L1365.5,1491.9 L1367.0,1494.1 L1368.5,1493.9 L1370.0,1496.5 L1371.5,1493.9 L1373.0,1493.7 L1374.5,1495.0 L1376.0,1495.1 L1377.5,1493.5 L1379.0,1494.3 L1380.5,1492.4 L1382.0,1492.6 L1383.5,1495.1 L1385.0,1491.9 L1386.5,1494.7 L1388.0,1494.4 L1389.5,1494.5 L1391.0,1494.6 L1392.5,1494.2 L1394.0,1490.9 L1395.5,1492.2 L1397.0,1492.7 L1398.5,1494.5 L1400.0,1492.0 L1401.5,1492.5 L1403.0,1492.9 L1404.5,1494.9 L1406.0,1491.6 L1407.5,1491.7 L1409.0,1494.1 L1410.5,1490.8 L1412.0,1493.7 L1413.5,1492.8 L1415.0,1491.4 L1416.5,1492.8 L1418.0,1492.1 L1419.5,1493.5 L1421.0,1493.7 L1422.5,1495.1 L1424.0,1493.3 L1425.5,1493.4 L1427.0,1492.6 L1428.5,1493.2 L1430.0,1494.5 L1431.5,1490.9 L1433.0,1494.0 L1434.5,1492.6 L1436.0,1493.3 L1437.5,1493.6 L1439.0,1494.2 L1440.5,1493.5 L1442.0,1492.7 L1443.5,1493.6 L1445.0,1493.2 L1446.5,1492.9 L1448.0,1493.4 L1449.5,1494.2 L1451.0,1493.3 L1452.5,1493.3 L1454.0,1491.6 L1455.5,1493.0 L1457.0,1490.9 L1458.5,1494.0 L1460.0,1492.0 L1461.5,1494.7 L1463.0,1495.7 L1464.5,1492.6 L1466.0,1494.7 L1467.5,1493.6 L1469.0,1492.4 L1470.5,1492.1 L1472.0,1493.8 L1473.5,1494.8 L1475.0,1493.5 L1476.5,1491.3 L1478.0,1491.8 L1479.5,1492.8 L1481.0,1494.7 L1482.5,1493.4 L1484.0,1493.5 L1485.5,1494.5 L1487.0,1492.8 L1488.5,1492.9 L1490.0,1492.8 L1491.5,1490.9 L1493.0,1493.6 L1494.5,1493.5 L1496.0,1494.2 L1497.5,1491.6 L1499.0,1492.0 L1500.5,1494.1 L1502.0,1493.4 L1503.5,1494.6 L1505.0,1491.9 L1506.5,1493.2 L1508.0,1492.1 L1509.5,1493.3 L1511.0,1492.4 L1512.5,1493.6 L1514.0,1494.2 L1515.5,1493.7 L1517.0,1490.7 L1518.5,1494.0 L1520.0,1493.4 L1521.5,1491.6 L1523.0,1491.8 L1524.5,1492.9 L1526.0,1493.5 L1527.5,1492.3 L1529.0,1490.9 L1530.5,1493.2 L1532.0,1493.0 L1533.5,1495.4 L1535.0,1491.2 L1536.5,1495.4 L1538.0,1494.9 L1539.5,1493.1 L1541.0,1494.7 L1542.5,1492.9 L1544.0,1493.9 L1545.5,1491.8 L1547.0,1492.8 L1548.5,1491.5 L1550.0,1490.8 L1551.5,1492.4 L1553.0,1491.9 L1554.5,1493.4 L1556.0,1494.2 L1557.5,1492.4 L1559.0,1492.7 L1560.5,1492.9 L1562.0,1490.6 L1563.5,1492.9 L1565.0,1492.6 L1566.5,1492.5 L1568.0,1491.3 L1569.5,1490.2 L1571.0,1492.3 L1572.5,1492.9 L1574.0,1494.2 L1575.5,1493.9 L1577.0,1494.3 L1578.5,1493.0 L1580.0,1493.9 L1581.5,1492.3 L1583.0,1493.3 L1584.5,1493.6 L1586.0,1495.1 L1587.5,1492.8 L1589.0,1491.0 L1590.5,1494.2 L1592.0,1491.6 L1593.5,1492.4 L1595.0,1492.1 L1596.5,1491.4 L1598.0,1494.1 L1599.5,1493.2 L1601.0,1491.8 L1602.5,1492.6 L1604.0,1492.0 L1605.5,1493.2 L1607.0,1492.0 L1608.5,1491.6 L1610.0,1491.7 L1611.5,1492.0 L1613.0,1492.9 L1614.5,1491.4 L1616.0,1492.4 L1617.5,1493.0 L1619.0,1495.1 L1620.5,1493.5 L1622.0,1489.9 L1623.5,1491.9 L1625.0,1492.1 L1626.5,1492.9 L1628.0,1494.4 L1629.5,1493.4 L1631.0,1489.9 L1632.5,1492.9 L1634.0,1492.7 L1635.5,1493.1 L1637.0,1494.2 L1638.5,1491.3 L1640.0,1493.9 L1641.5,1490.6 L1643.0,1492.6 L1644.5,1493.0 L1646.0,1495.2 L1647.5,1491.7 L1649.0,1490.6 L1650.5,1493.4 L1652.0,1491.8 L1653.5,1494.5 L1655.0,1491.8 L1656.5,1491.6 L1658.0,1494.1 L1659.5,1492.7 L1661.0,1493.8 L1662.5,1490.9 L1664.0,1494.6 L1665.5,1491.9 L1667.0,1493.6 L1668.5,1491.4 L1670.0,1490.8 L1671.5,1492.4 L1673.0,1492.9 L1674.5,1494.6 L1676.0,1493.1 L1677.5,1493.5 L1679.0,1493.5 L1680.5,1495.3 L1682.0,1491.7 L1683.5,1494.2 L1685.0,1492.5 L1686.5,1493.0 L1688.0,1492.0 L1689.5,1494.1 L1691.0,1491.2 L1692.5,1491.1 L1694.0,1492.4 L1695.5,1491.3 L1697.0,1493.5 L1698.5,1493.8 L1700.0,1491.8 L1701.5,1493.6 L1703.0,1491.9 L1704.5,1492.5 L1706.0,1492.5 L1707.5,1494.7 L1709.0,1492.3 L1710.5,1491.1 L1712.0,1490.9 L1713.5,1493.3 L1715.0,1489.7 L1716.5,1491.0 L1718.0,1490.9 L1719.5,1488.6 L1721.0,1490.5 L1722.5,1492.0 L1724.0,1490.9 L1725.5,1489.2 L1727.0,1490.9 L1728.5,1490.3 L1730.0,1491.8 L1731.5,1488.0 L1733.0,1488.0 L1734.5,1488.1 L1736.0,1487.3 L1737.5,1486.9 L1739.0,1485.9 L1740.5,1484.3 L1742.0,1482.1 L1743.5,1482.1 L1745.0,1479.7 L1746.5,1478.4 L1748.0,1476.9 L1749.5,1475.7 L1751.0,1473.2 L1752.5,1466.8 L1754.0,1462.9 L1755.5,1457.1 L1757.0,1447.9 L1758.5,1438.2 L1760.0,1430.7 L1761.5,1429.7 L1763.0,1426.7 L1764.5,1423.9 L1766.0,1422.2 L1767.5,1426.5 L1769.0,1428.4 L1770.5,1429.5 L1772.0,1433.6 L1773.5,1437.2 L1775.0,1446.9 L1776.5,1451.3 L1778.0,1460.2 L1779.5,1465.4 L1781.0,1468.9 L1782.5,1473.9 L1784.0,1474.4 L1785.5,1477.7 L1787.0,1479.6 L1788.5,1480.2 L1790.0,1480.5 L1791.5,1483.5 L1793.0,1483.4 L1794.5,1483.3 L1796.0,1484.0 L1797.5,1484.8 L1799.0,1487.7 L1800.5,1485.6 L1802.0,1485.5 L1803.5,1484.8 L1805.0,1484.9 L1806.5,1484.3 L1808.0,1487.1 L1809.5,1487.1 L1811.0,1486.1 L1812.5,1485.8 L1814.0,1487.5 L1815.5,1487.6 L1817.0,1486.9 L1818.5,1489.1 L1820.0,1489.2 L1821.5,1489.2 L1823.0,1490.4 L1824.5,1488.9 L1826.0,1491.5 L1827.5,1488.8 L1829.0,1490.8 L1830.5,1491.1 L1832.0,1490.1 L1833.5,1491.0 L1835.0,1489.1 L1836.5,1488.9 L1838.0,1490.6 L1839.5,1490.0 L1841.0,1491.6 L1842.5,1491.0 L1844.0,1491.7 L1845.5,1490.7 L1847.0,1489.3 L1848.5,1488.3 L1850.0,1487.9 L1851.5,1489.1 L1853.0,1493.7 L1854.5,1490.4 L1856.0,1492.5 L1857.5,1494.1 L1859.0,1493.6 L1860.5,1494.9 L1862.0,1494.0 L1863.5,1491.9 L1865.0,1493.2 L1866.5,1492.0 L1868.0,1495.0 L1869.5,1495.6 L1871.0,1493.4 L1872.5,1494.7 L1874.0,1493.6 L1875.5,1492.5 L1877.0,1493.7 L1878.5,1492.4 L1880.0,1493.7 L1881.5,1494.7 L1883.0,1495.3 L1884.5,1496.0 L1886.0,1494.1 L1887.5,1494.8 L1889.0,1495.1 L1890.5,1495.3 L1892.0,1492.1 L1893.5,1493.7 L1895.0,1495.6 L1896.5,1493.3 L1898.0,1494.9 L1899.5,1495.6 L1901.0,1492.4 L1902.5,1494.4 L1904.0,1494.9 L1905.5,1494.6 L1907.0,1492.8 L1908.5,1495.0 L1910.0,1493.9 L1911.5,1495.6 L1913.0,1495.1 L1914.5,1493.9 L1916.0,1494.8 L1917.5,1493.7 L1919.0,1493.7 L1920.5,1492.6 L1922.0,1494.2 L1923.5,1495.4 L1925.0,1494.6 L1926.5,1494.4 L1928.0,1493.7 L1929.5,1493.8 L1931.0,1495.3 L1932.5,1492.6 L1934.0,1496.8 L1935.5,1494.2 L1937.0,1496.9 L1938.5,1495.7 L1940.0,1493.7 L1941.5,1495.1 L1943.0,1494.5 L1944.5,1494.7 L1946.0,1495.1 L1947.5,1493.4 L1949.0,1493.3 L1950.5,1493.5 L1952.0,1492.4 L1953.5,1493.7 L1955.0,1494.2 L1956.5,1494.2 L1958.0,1494.2 L1959.5,1493.4 L1961.0,1494.8 L1962.5,1491.4 L1964.0,1493.3 L1965.5,1493.4 L1967.0,1494.8 L1968.5,1494.5 L1970.0,1494.7 L1971.5,1493.7 L1973.0,1494.8 L1974.5,1492.4 L1976.0,1493.7 L1977.5,1491.2 L1979.0,1495.6 L1980.5,1495.5 L1982.0,1492.8 L1983.5,1492.5 L1985.0,1491.1 L1986.5,1491.7 L1988.0,1493.6 L1989.5,1493.3 L1991.0,1491.7 L1992.5,1492.9 L1994.0,1492.6 L1995.5,1494.0 L1997.0,1494.3 L1998.5,1493.2 L2000.0,1493.6 L2001.5,1493.4 L2003.0,1491.0 L2004.5,1493.6 L2006.0,1493.3 L2007.5,1494.3 L2009.0,1491.2 L2010.5,1494.3 L2012.0,1492.6 L2013.5,1493.7 L2015.0,1494.8 L2016.5,1491.6 L2018.0,1491.8 L2019.5,1494.6 L2021.0,1492.0 L2022.5,1492.2 L2024.0,1494.1 L2025.5,1493.1 L2027.0,1494.3 L2028.5,1493.7 L2030.0,1493.3 L2031.5,1494.5 L2033.0,1496.0 L2034.5,1493.2 L2036.0,1495.1 L2037.5,1494.7 L2039.0,1493.5 L2040.5,1493.9 L2042.0,1492.2 L2043.5,1492.6 L2045.0,1493.7 L2046.5,1493.3 L2048.0,1494.9 L2049.5,1491.8 L2051.0,1493.0 L2052.5,1492.6 L2054.0,1493.1 L2055.5,1494.7 L2057.0,1491.9 L2058.5,1494.3 L2060.0,1492.6 L2061.5,1492.9 L2063.0,1494.5 L2064.5,1493.0 L2066.0,1494.1 L2067.5,1493.4 L2069.0,1493.1 L2070.5,1492.9 L2072.0,1491.2 L2073.5,1492.4 L2075.0,1493.5 L2076.5,1493.5 L2078.0,1491.5 L2079.5,1494.5 L2081.0,1494.0 L2082.5,1491.7 L2084.0,1492.0 L2085.5,1493.9 L2087.0,1491.2 L2088.5,1492.4 L2090.0,1493.2 L2091.5,1493.1 L2093.0,1493.2 L2094.5,1493.7 L2096.0,1492.3 L2097.5,1492.7 L2099.0,1495.7 L2100.5,1491.6 L2102.0,1492.7 L2103.5,1493.4 L2105.0,1492.5 L2106.5,1494.7 L2108.0,1493.4 L2109.5,1494.2 L2111.0,1490.8 L2112.5,1494.7 L2114.0,1494.7 L2115.5,1492.4 L2117.0,1494.8 L2118.5,1493.6 L2120.0,1494.4 L2121.5,1495.5 L2123.0,1493.4 L2124.5,1492.1 L2126.0,1493.3 L2127.5,1491.8 L2129.0,1492.3 L2130.5,1492.4 L2132.0,1492.4 L2133.5,1494.7 L2134.0,1494.3" stroke="#ff0000" stroke-width="11"/>
</g>
<g font-family="'Liberation Serif', serif" fill="#000">
<text x="395.3" y="1717.5" font-size="87" text-anchor="middle" stroke="#fff" stroke-width="1.0">200</text>
<text x="740.2" y="1717.5" font-size="87" text-anchor="middle" stroke="#fff" stroke-width="1.0">400</text>
<text x="1087.7" y="1717.5" font-size="87" text-anchor="middle" stroke="#fff" stroke-width="1.0">600</text>
<text x="1435.3" y="1717.5" font-size="87" text-anchor="middle" stroke="#fff" stroke-width="1.0">800</text>
<text x="1781.3" y="1717.5" font-size="87" text-anchor="middle" stroke="#fff" stroke-width="1.0">1000</text>
<text x="2128.1" y="1717.5" font-size="87" text-anchor="middle" stroke="#fff" stroke-width="1.0">1200</text>
<text x="762" y="1859.4" font-size="100">Raman shift (cm<tspan font-size="60" dy="-49.1">-1</tspan><tspan dy="49.1">)</tspan></text>
<text transform="translate(117.3,1107.5) rotate(-90)" font-size="100">Intensity (a. u.)</text>
<text transform="translate(313.2,343.7) rotate(-90)" font-size="80" stroke="#fff" stroke-width="1.0">139</text>
<text transform="translate(408.5,1032.7) rotate(-90)" font-size="80" stroke="#fff" stroke-width="1.0">189</text>
<text transform="translate(559.3,899) rotate(-90)" font-size="80" stroke="#fff" stroke-width="1.0">281</text>
<text transform="translate(780.1,1002.5) rotate(-90)" font-size="80" stroke="#fff" stroke-width="1.0">406</text>
<text transform="translate(971.7,1030.0) rotate(-90)" font-size="80" stroke="#fff" stroke-width="1.0">523</text>
<text transform="translate(1270,1027) rotate(-90)" font-size="80" stroke="#fff" stroke-width="1.0">687</text>
<text transform="translate(1794.5,958) rotate(-90)" font-size="80" stroke="#fff" stroke-width="1.0">993</text>
<text x="1917" y="1055.7" font-size="80" stroke="#fff" stroke-width="1.0">N-450</text>
<text x="1915.8" y="1448.4" font-size="80" stroke="#fff" stroke-width="1.0">N-400</text>
</g>
</svg>
</body></html>
